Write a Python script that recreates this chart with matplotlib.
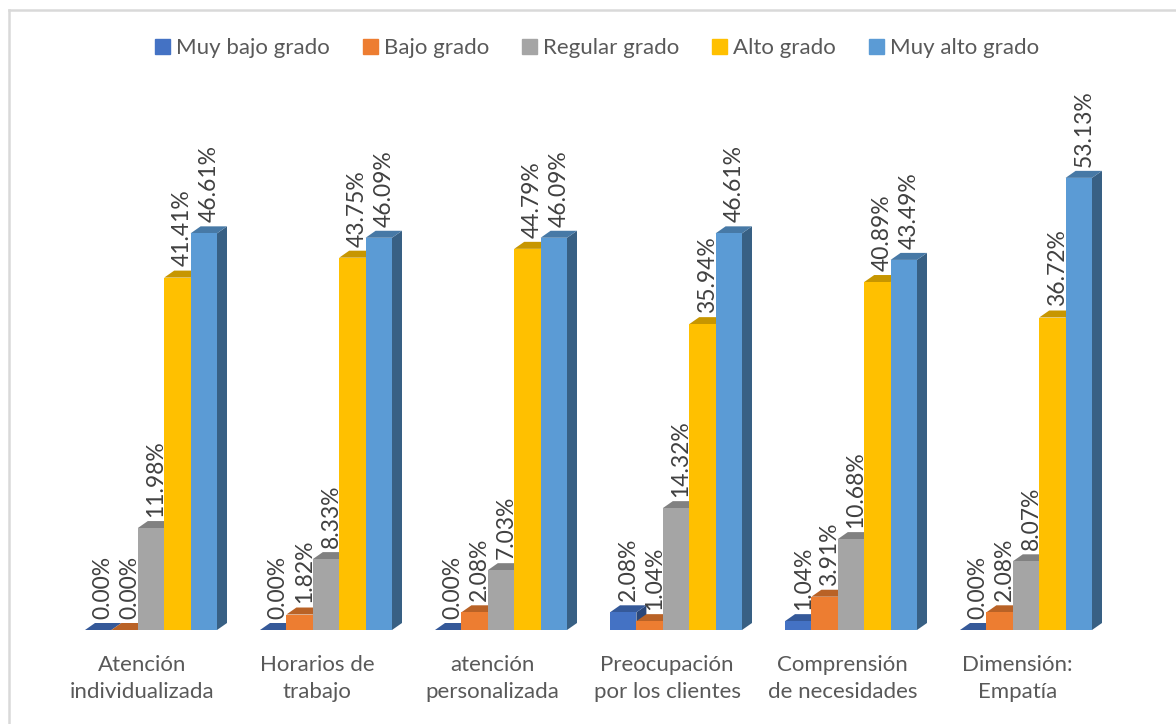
import matplotlib.pyplot as plt
from matplotlib.patches import Polygon
from matplotlib.lines import Line2D
import numpy as np

categories = ["Atención\nindividualizada", "Horarios de\ntrabajo", "atención\npersonalizada",
              "Preocupación\npor los clientes", "Comprensión\nde necesidades", "Dimensión:\nEmpatía"]
series_names = ["Muy bajo grado", "Bajo grado", "Regular grado", "Alto grado", "Muy alto grado"]
muy_bajo = [0.00, 0.00, 0.00, 2.08, 1.04, 0.00]
bajo = [0.00, 1.82, 2.08, 1.04, 3.91, 2.08]
regular = [11.98, 8.33, 7.03, 14.32, 10.68, 8.07]
alto = [41.41, 43.75, 44.79, 35.94, 40.89, 36.72]
muy_alto = [46.61, 46.09, 46.09, 46.61, 43.49, 53.13]
colors = ["#4472C4", "#ED7D31", "#A5A5A5", "#FFC000", "#5B9BD5"]

plt.rcParams['font.family'] = ['Lato', 'DejaVu Sans']

fig = plt.figure(figsize=(11.76, 7.24), dpi=100)
ax = fig.add_axes([63.5 / 1176, 94 / 724, 1050 / 1176, 510.6 / 724])
ax.set_xlim(-0.5, 5.5)
ax.set_ylim(0, 60)

data = [muy_bajo, bajo, regular, alto, muy_alto]
w = 26.4 / 175
dx = 10 / 175
dy = 7 / 8.51


def shade(c, f):
    c = c.lstrip('#')
    rgb = np.array([int(c[i:i + 2], 16) for i in (0, 2, 4)]) / 255.0
    return tuple(rgb * f)


x = np.arange(len(categories))
for i in range(len(categories)):
    for j in range(5):
        v = data[j][i]
        xc = x[i] + (j - 2) * w
        x0, x1 = xc - w / 2, xc + w / 2
        z = 2 + i * 10 + j
        ax.bar(xc, v, width=w, color=colors[j], zorder=z + 0.3, linewidth=0)
        ax.add_patch(Polygon([(x0, v), (x1, v), (x1 + dx, v + dy), (x0 + dx, v + dy)],
                             closed=True, facecolor=shade(colors[j], 0.78), lw=0, zorder=z + 0.2))
        ax.add_patch(Polygon([(x1, 0), (x1 + dx, dy), (x1 + dx, v + dy), (x1, v)],
                             closed=True, facecolor=shade(colors[j], 0.62), lw=0, zorder=z + 0.1))
        ax.annotate("{:.2f}%".format(v), (xc + dx / 2, v + dy), xytext=(0, 3),
                    textcoords='offset points', rotation=90, ha='center', va='bottom',
                    fontsize=16.5, color='#404040', zorder=100)

ax.set_xticks(x - 0.05)
ax.set_xticklabels(categories, fontsize=16, color='#595959', linespacing=1.45)
ax.tick_params(axis='x', length=0, pad=18)
ax.set_yticks([])
for s in ax.spines.values():
    s.set_visible(False)

handles = [plt.Rectangle((0, 0), 1, 1, color=c) for c in colors]
fig.legend(handles, series_names, loc='center', bbox_to_anchor=(597 / 1176, 1 - 48 / 724),
           ncol=5, frameon=False, fontsize=16, handlelength=0.68, handleheight=0.68,
           handletextpad=0.25, columnspacing=1.5, labelcolor='#595959')

fig.add_artist(Line2D([8.5 / 1176, 8.5 / 1176], [0, 1 - 10 / 724], color='#d9d9d9', lw=1.8))
fig.add_artist(Line2D([8.5 / 1176, 1], [1 - 10 / 724, 1 - 10 / 724], color='#d9d9d9', lw=1.8))

fig.savefig('out.png', dpi=100)
